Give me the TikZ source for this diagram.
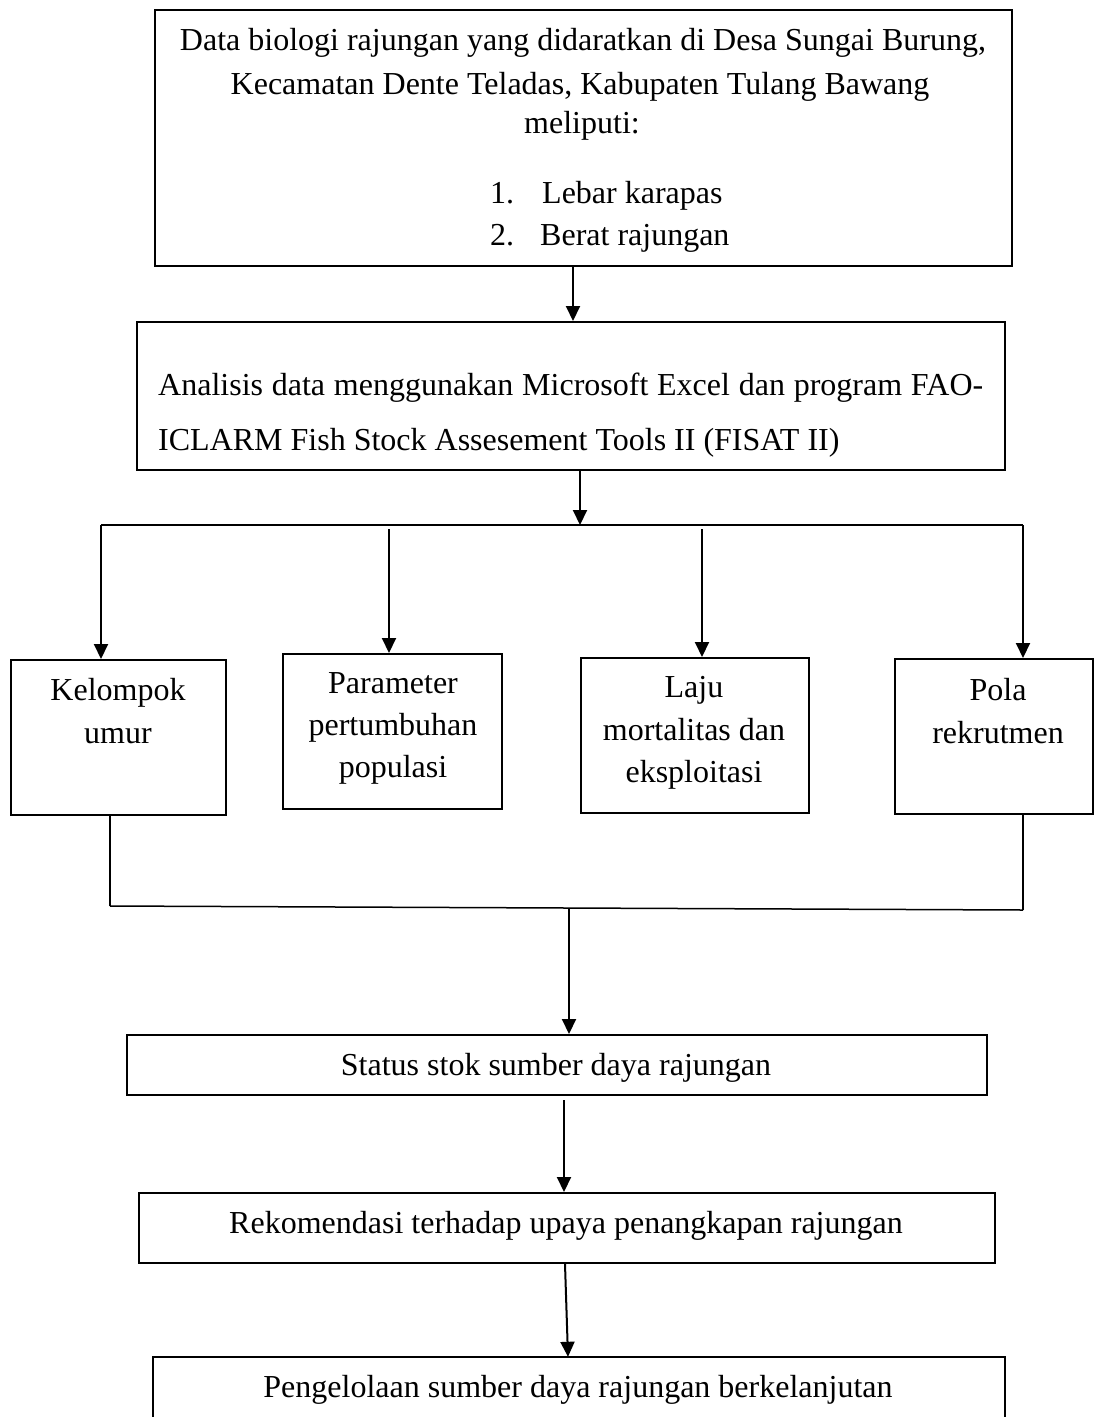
\documentclass[tikz,border=0pt]{standalone}
\usepackage{fontspec}
\setmainfont{Liberation Serif}
\usetikzlibrary{arrows.meta}
\begin{document}
\begin{tikzpicture}[x=1pt,y=-1pt,
  box/.style={draw, line width=2pt, inner sep=0pt},
  openbox/.style={inner sep=0pt},
  txt/.style={anchor=base, inner sep=0pt, font=\fontsize{32}{40}\selectfont},
  txtl/.style={anchor=base west, inner sep=0pt, font=\fontsize{32}{40}\selectfont},
  arr/.style={line width=2pt, -{Triangle[length=15pt,width=14pt]}},
  conn/.style={line width=1.5pt}]
\useasboundingbox (0,0) rectangle (1094,1417);
\fill[white] (0,0) rectangle (1094,1417);

% boxes
\node[box, minimum width=857pt, minimum height=256pt] (b1) at (583.5,138) {};
\node[box, minimum width=868pt, minimum height=148pt] (b2) at (571,396) {};
\node[box, minimum width=215pt, minimum height=155pt] (k) at (118.5,737.5) {};
\node[box, minimum width=219pt, minimum height=155pt] (p) at (392.5,731.5) {};
\node[box, minimum width=228pt, minimum height=155pt] (l) at (695,735.5) {};
\node[box, minimum width=198pt, minimum height=155pt] (r) at (994,736.5) {};
\node[box, minimum width=860pt, minimum height=60pt] (s) at (557,1065) {};
\node[box, minimum width=856pt, minimum height=70pt] (rk) at (567,1228) {};
\node[openbox, minimum width=852pt, minimum height=70pt] (pg) at (579,1392) {};
\draw[line width=2pt] (pg.south west) -- (pg.north west) -- (pg.north east) -- (pg.south east);

% texts box 1
\node[txt] (t1a) at (583,50) {Data biologi rajungan yang didaratkan di Desa Sungai Burung,};
\node[txt] (t1b) at (580,94) {Kecamatan Dente Teladas, Kabupaten Tulang Bawang};
\node[txt] (t1c) at (582,133) {meliputi:};
\node[txtl] (t1d) at (490,203) {1.};
\node[txtl] (t1e) at (542,203) {Lebar karapas};
\node[txtl] (t1f) at (490,245) {2.};
\node[txtl] (t1g) at (540,245) {Berat rajungan};

% texts box 2
\node[txtl] (t2a) at (158,395) {\makebox[825pt][s]{Analisis data menggunakan Microsoft Excel dan program FAO-}};
\node[txtl] (t2b) at (158,450) {ICLARM Fish Stock Assesement Tools II (FISAT II)};

% four boxes
\node[txt] (tk1) at (118,700) {Kelompok};
\node[txt] (tk2) at (118,743) {umur};
\node[txt] (tp1) at (393,693) {Parameter};
\node[txt] (tp2) at (393,735) {pertumbuhan};
\node[txt] (tp3) at (393,777) {populasi};
\node[txt] (tl1) at (694,697) {Laju};
\node[txt] (tl2) at (694,740) {mortalitas dan};
\node[txt] (tl3) at (694,782) {eksploitasi};
\node[txt] (tr1) at (998,700) {Pola};
\node[txt] (tr2) at (998,743) {rekrutmen};

% lower boxes
\node[txt] (ts) at (556,1075) {Status stok sumber daya rajungan};
\node[txt] (trk) at (566,1233) {Rekomendasi terhadap upaya penangkapan rajungan};
\node[txt] (tpg) at (578,1397) {Pengelolaan sumber daya rajungan berkelanjutan};

% junction coordinates
\coordinate (j1) at (580,525);
\coordinate (hl) at (101,525);
\coordinate (hr) at (1023,525);
\coordinate (jp) at (389,529);
\coordinate (jl) at (702,529);
\coordinate (bl) at (110,906);
\coordinate (br) at (1023,910);
\coordinate (j2) at (569,908);

% connectors
\draw[arr] ([xshift=-10.5pt]b1.south) -- ([xshift=2pt]b2.north);
\draw[arr] ([xshift=9pt]b2.south) -- (j1);
\draw[line width=2pt] (hl) -- (hr);
\draw[arr] (hl) -- ([xshift=-17.5pt]k.north);
\draw[arr] (jp) -- ([xshift=-3.5pt]p.north);
\draw[arr] (jl) -- ([xshift=7pt]l.north);
\draw[arr] (hr) -- ([xshift=29pt]r.north);

\draw[conn] ([xshift=-8.5pt]k.south) -- (bl);
\draw[conn] ([xshift=29pt]r.south) -- (br);
\draw[conn] (bl) -- (br);
\draw[arr] (j2) -- ([xshift=12pt]s.north);

\draw[arr] ([shift={(7,4)}]s.south) -- ([xshift=-3pt]rk.north);
\draw[arr] ([xshift=-2pt]rk.south) -- ([xshift=-11pt]pg.north);
\end{tikzpicture}
\end{document}
